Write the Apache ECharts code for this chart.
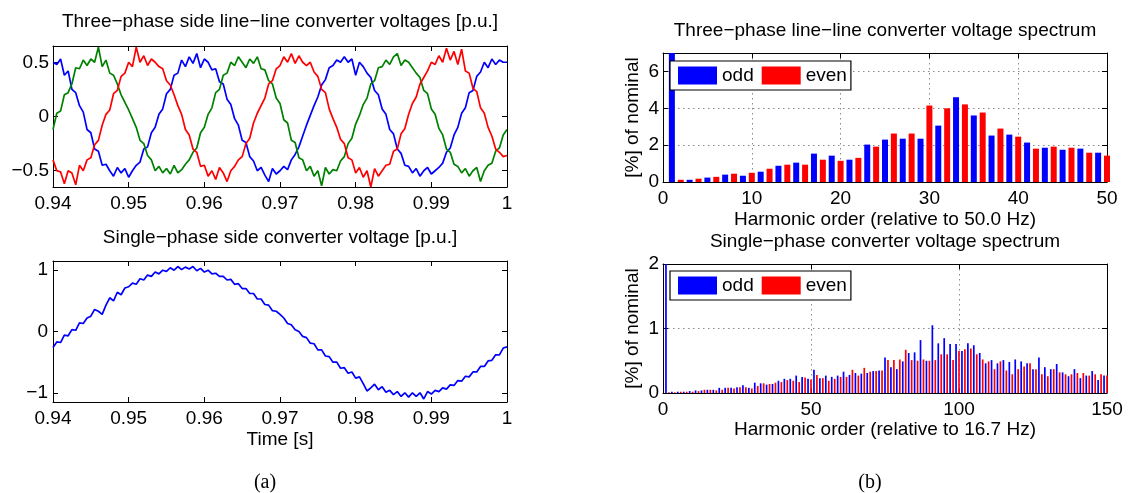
<!DOCTYPE html>
<html><head><meta charset="utf-8">
<script src="https://cdn.jsdelivr.net/npm/echarts@6/dist/echarts.min.js"></script>
<style>html,body{margin:0;padding:0;background:#fff}#c{width:1142px;height:493px}</style>
</head><body><div id="c"></div>
<script>
// ---------- time-domain data (sampled every 0.5 ms from 0.94 s) ----------
const timeStart = 0.94, timeStep = 0.0005;
const phaseBlue = [0.5,0.48,0.53,0.38,0.42,0.25,0.22,0.1,0.04,-0.12,-0.15,-0.3,-0.32,-0.45,-0.44,-0.5,-0.55,-0.47,-0.52,-0.48,-0.56,-0.5,-0.45,-0.42,-0.3,-0.28,-0.15,-0.1,
0.02,0.07,0.21,0.25,0.38,0.4,0.52,0.46,0.55,0.49,0.58,0.45,0.53,0.5,0.43,0.44,0.32,0.3,0.16,0.11,-0.02,-0.08,-0.22,-0.24,-0.37,-0.41,-0.5,-0.47,-0.54,-0.6,-0.48,-0.53,-0.5,-0.46,-0.49,-0.4,-0.35,-0.28,-0.18,-0.08,
0.01,0.1,0.18,0.29,0.34,0.45,0.47,0.52,0.5,0.55,0.5,0.53,0.38,0.5,0.46,0.4,0.36,0.24,0.2,0.07,0.02,-0.12,-0.16,-0.3,-0.34,-0.45,-0.46,-0.52,-0.48,-0.55,-0.5,-0.47,-0.53,-0.5,-0.47,-0.43,-0.33,-0.29,-0.17,-0.1,
0.03,0.08,0.22,0.24,0.37,0.41,0.5,0.45,0.53,0.48,0.52,0.5,0.5];
const phaseGreen = [-0.12,0.03,0.05,0.2,0.22,0.3,0.45,0.44,0.52,0.47,0.53,0.5,0.64,0.46,0.52,0.4,0.38,0.3,0.2,0.13,0.06,-0.02,-0.1,-0.22,-0.25,-0.36,-0.4,-0.5,-0.46,-0.52,-0.48,-0.53,-0.45,-0.52,-0.49,-0.44,-0.4,-0.33,-0.29,-0.15,-0.1,
0.02,0.08,0.22,0.25,0.38,0.4,0.5,0.47,0.55,0.5,0.45,0.53,0.49,0.55,0.44,0.43,0.33,0.3,0.17,0.12,-0.03,-0.06,-0.22,-0.24,-0.38,-0.4,-0.5,-0.46,-0.55,-0.5,-0.64,-0.47,-0.53,-0.49,-0.5,-0.41,-0.37,-0.25,-0.2,-0.07,
0.01,0.11,0.17,0.3,0.33,0.45,0.46,0.52,0.48,0.55,0.58,0.47,0.52,0.5,0.45,0.4,0.36,0.24,0.21,0.07,0.02,-0.11,-0.17,-0.3,-0.33,-0.44,-0.46,-0.52,-0.48,-0.55,-0.5,-0.47,-0.6,-0.5,-0.45,-0.43,-0.32,-0.29,-0.17,-0.12];
const phaseRed = [-0.4,-0.5,-0.51,-0.62,-0.5,-0.52,-0.63,-0.45,-0.5,-0.4,-0.38,-0.26,-0.22,-0.08,
0.02,0.06,0.21,0.24,0.37,0.4,0.5,0.46,0.64,0.5,0.56,0.47,0.53,0.5,0.46,0.44,0.33,0.29,0.2,0.1,0.02,-0.12,-0.17,-0.3,-0.33,-0.46,-0.45,-0.55,-0.5,-0.58,-0.47,-0.52,-0.6,-0.5,-0.46,-0.4,-0.37,-0.25,-0.2,-0.06,
0.03,0.1,0.17,0.3,0.33,0.44,0.47,0.55,0.5,0.58,0.49,0.56,0.5,0.47,0.5,0.41,0.37,0.25,0.22,0.07,-0.02,-0.1,-0.21,-0.25,-0.38,-0.4,-0.52,-0.47,-0.56,-0.5,-0.65,-0.48,-0.55,-0.5,-0.45,-0.44,-0.32,-0.3,-0.16,-0.11,
0.02,0.12,0.18,0.3,0.36,0.42,0.5,0.48,0.56,0.5,0.63,0.52,0.6,0.48,0.62,0.42,0.4,0.26,0.23,0.08,0.03,-0.1,-0.18,-0.3,-0.33,-0.37,-0.36];
const singlePhase = [-0.26,-0.17,-0.18,-0.06,-0.07,0.03,0.02,0.14,0.13,0.22,
0.25,0.36,0.33,0.28,0.43,0.55,0.5,0.64,0.6,0.71,
0.73,0.79,0.77,0.86,0.84,0.92,0.9,0.97,0.94,1.0,
0.98,1.04,1.0,1.06,1.01,1.05,1.02,1.06,0.99,1.03,
0.97,1.0,0.94,0.95,0.9,0.9,0.84,0.85,0.77,0.78,
0.7,0.7,0.62,0.62,0.53,0.53,0.44,0.43,0.34,0.33,
0.28,0.22,0.13,0.11,0.03,0.0,-0.08,-0.1,-0.19,-0.2,
-0.3,-0.3,-0.4,-0.41,-0.5,-0.5,-0.6,-0.59,-0.68,-0.66,
-0.76,-0.74,-0.85,-0.97,-0.92,-0.86,-0.95,-0.9,-0.99,-0.96,
-1.03,-0.98,-1.06,-1.0,-1.07,-1.0,-1.06,-1.0,-1.1,-0.98,
-1.02,-0.96,-0.98,-0.92,-0.94,-0.87,-0.88,-0.8,-0.81,-0.73,
-0.74,-0.66,-0.66,-0.57,-0.57,-0.48,-0.47,-0.38,-0.38,-0.27,
-0.25];
const timeTicks = [0.94,0.95,0.96,0.97,0.98,0.99,1];
const threePhaseYTicks = [-0.5,0,0.5];
const singlePhaseYTicks = [-1,0,1];

// ---------- spectra ----------
// harmonic orders 1,3,5,...,49 and 2,4,...,50
const threeSpecOdd = [100,0.12,0.24,0.4,0.34,0.56,0.88,1.05,1.54,1.43,1.21,2.03,2.3,2.35,2.35,3.06,4.6,3.61,2.52,2.57,2.14,1.86,1.75,1.81,1.59];
const threeSpecEven = [0.12,0.18,0.28,0.45,0.5,0.72,0.94,0.94,1.21,1.15,1.31,1.92,2.63,2.63,4.15,4.0,4.21,3.77,2.9,2.46,1.81,1.92,1.86,1.59,1.43];
// harmonic orders 1,3,...,149 and 2,4,...,150
const singleSpecOdd = [100,0.02,0.02,0.02,0.03,0.04,0.04,0.05,0.05,0.08,
0.08,0.08,0.09,0.12,0.08,0.16,0.15,0.13,0.14,0.19,
0.22,0.22,0.27,0.25,0.22,0.36,0.23,0.27,0.25,0.27,
0.33,0.28,0.31,0.3,0.31,0.34,0.35,0.55,0.4,0.37,
0.49,0.62,0.63,0.82,0.5,1.05,0.77,0.85,0.76,0.76,
0.65,0.77,0.74,0.62,0.46,0.51,0.46,0.51,0.48,0.52,
0.49,0.46,0.37,0.55,0.4,0.37,0.45,0.32,0.26,0.37,
0.23,0.27,0.34,0.2,0.27];
const singleSpecEven = [0.01,0.01,0.02,0.02,0.02,0.03,0.05,0.05,0.04,0.05,
0.08,0.07,0.09,0.09,0.07,0.11,0.15,0.14,0.16,0.17,
0.2,0.19,0.17,0.24,0.21,0.28,0.23,0.19,0.22,0.25,
0.25,0.36,0.27,0.39,0.33,0.34,0.35,0.51,0.51,0.52,
0.67,0.51,0.5,0.52,0.5,0.51,0.6,0.6,0.51,0.65,
0.68,0.69,0.6,0.52,0.49,0.37,0.49,0.35,0.29,0.37,
0.41,0.46,0.37,0.29,0.26,0.37,0.32,0.29,0.29,0.31,
0.31,0.27,0.29,0.29,0.27];

// ---------- helpers ----------
const FONT = "'Liberation Sans', Arial, Helvetica, sans-serif";
const MINUS = '\u2212';
const fmt = v => String(v).replace('-', MINUS);
const times = phaseBlue.map((_, i) => +(timeStart + i * timeStep).toFixed(5));
const pairs = (arr) => arr.map((v, i) => [times[i], v]);
const oddPairs = (arr) => arr.map((v, k) => [2 * k + 1, v]);
const evenPairs = (arr) => arr.map((v, k) => [2 * k + 2, v]);

const dotted = {show: true, lineStyle: {color: '#8a8a8a', width: 1, type: [1.5, 3.5]}};
function axis(o) {
  const a = {
    type: 'value', gridIndex: o.grid, min: o.min, max: o.max, position: o.pos,
    axisLine: {show: true, onZero: false, lineStyle: {color: '#000', width: 1}},
    axisTick: {show: true, inside: true, length: 5, lineStyle: {color: '#000', width: 1}},
    axisLabel: {show: !o.mirror, color: '#000', fontSize: 19, fontFamily: FONT, margin: o.margin || 6, formatter: fmt},
    splitLine: o.grid_lines && !o.mirror ? dotted : {show: false},
    nameTextStyle: {color: '#000', fontSize: 19, fontFamily: FONT}
  };
  if (o.interval) a.interval = o.interval;
  if (o.ticks) { a.axisTick.customValues = o.ticks; a.axisLabel.customValues = o.ticks; }
  if (o.hideMax) a.axisLabel.showMaxLabel = false;
  if (o.name && !o.mirror) { a.name = o.name; a.nameLocation = 'middle'; a.nameGap = o.nameGap; if (o.rot) a.nameRotate = 90; }
  return a;
}

const xAxes = [
  axis({grid:0,min:0.94,max:1,pos:'bottom',ticks:timeTicks,margin:7}),
  axis({grid:0,min:0.94,max:1,pos:'top',ticks:timeTicks,mirror:true}),
  axis({grid:1,min:0.94,max:1,pos:'bottom',ticks:timeTicks,margin:7,name:'Time [s]',nameGap:28}),
  axis({grid:1,min:0.94,max:1,pos:'top',ticks:timeTicks,mirror:true}),
  axis({grid:2,min:0,max:50,interval:10,pos:'bottom',margin:7,grid_lines:true,name:'Harmonic order (relative to 50.0 Hz)',nameGap:28}),
  axis({grid:2,min:0,max:50,interval:10,pos:'top',mirror:true}),
  axis({grid:3,min:0,max:150,interval:50,pos:'bottom',margin:7,grid_lines:true,name:'Harmonic order (relative to 16.7 Hz)',nameGap:27}),
  axis({grid:3,min:0,max:150,interval:50,pos:'top',mirror:true})
];
const yAxes = [
  axis({grid:0,min:-0.65,max:0.65,pos:'left',ticks:threePhaseYTicks,margin:4}),
  axis({grid:0,min:-0.65,max:0.65,pos:'right',ticks:threePhaseYTicks,mirror:true}),
  axis({grid:1,min:-1.15,max:1.15,pos:'left',ticks:singlePhaseYTicks,margin:5}),
  axis({grid:1,min:-1.15,max:1.15,pos:'right',ticks:singlePhaseYTicks,mirror:true}),
  axis({grid:2,min:0,max:7,interval:2,pos:'left',margin:4,grid_lines:true,hideMax:true,name:'[%] of nominal',nameGap:21,rot:true}),
  axis({grid:2,min:0,max:7,interval:2,pos:'right',mirror:true}),
  axis({grid:3,min:0,max:2,interval:1,pos:'left',margin:4,grid_lines:true,name:'[%] of nominal',nameGap:21,rot:true}),
  axis({grid:3,min:0,max:2,interval:1,pos:'right',mirror:true})
];

const titleStyle = {fontSize: 19, fontWeight: 'normal', color: '#000', fontFamily: FONT};
const capStyle = {fontSize: 20, fontWeight: 'normal', color: '#000', fontFamily: "'Liberation Serif', 'Times New Roman', serif"};
const legendBase = {
  data: ['odd', 'even'], orient: 'horizontal', icon: 'rect', itemWidth: 39, itemHeight: 18, itemGap: 8,
  padding: [5, 4, 5, 8], borderColor: '#000', borderWidth: 1.2, backgroundColor: '#fff', borderRadius: 0,
  textStyle: {fontSize: 19, color: '#000', fontFamily: FONT}, selectedMode: false
};
const lineSeries = (name, data, color, xi, yi) => ({
  name, type: 'line', data: pairs(data), xAxisIndex: xi, yAxisIndex: yi, showSymbol: false, symbol: 'none',
  lineStyle: {color, width: 1.7}, itemStyle: {color}, animation: false, clip: true
});
const barSeries = (name, data, color, xi, yi, w) => ({
  name, type: 'bar', data, xAxisIndex: xi, yAxisIndex: yi, barWidth: w, barGap: '-100%',
  itemStyle: {color}, animation: false, clip: true
});

const option = {
  backgroundColor: '#fff',
  animation: false,
  title: [
    {text: 'Three\u2212phase side line\u2212line converter voltages [p.u.]', left: 280, top: 12, textAlign: 'center', padding: 0, textStyle: titleStyle},
    {text: 'Single\u2212phase side converter voltage [p.u.]', left: 280, top: 228, textAlign: 'center', padding: 0, textStyle: titleStyle},
    {text: 'Three\u2212phase line\u2212line converter voltage spectrum', left: 885, top: 21, textAlign: 'center', padding: 0, textStyle: titleStyle},
    {text: 'Single\u2212phase converter voltage spectrum', left: 885, top: 232, textAlign: 'center', padding: 0, textStyle: titleStyle},
    {text: '(a)', left: 265, top: 473, textAlign: 'center', padding: 0, textStyle: capStyle},
    {text: '(b)', left: 870, top: 473, textAlign: 'center', padding: 0, textStyle: capStyle}
  ],
  legend: [
    Object.assign({left: 670, top: 61}, legendBase),
    Object.assign({left: 670, top: 271}, legendBase)
  ],
  grid: [
    {left: 53, top: 46, width: 454, height: 141},
    {left: 53, top: 261, width: 454, height: 141},
    {left: 663, top: 53, width: 444, height: 129},
    {left: 663, top: 264, width: 444, height: 129}
  ],
  xAxis: xAxes,
  yAxis: yAxes,
  series: [
    lineSeries('uab', phaseBlue, '#0000ff', 0, 0),
    lineSeries('ubc', phaseGreen, '#008000', 0, 0),
    lineSeries('uca', phaseRed, '#ff0000', 0, 0),
    lineSeries('u1ph', singlePhase, '#0000ff', 2, 2),
    barSeries('odd', oddPairs(threeSpecOdd), '#0000ff', 4, 4, 6),
    barSeries('even', evenPairs(threeSpecEven), '#ff0000', 4, 4, 6),
    barSeries('odd', oddPairs(singleSpecOdd), '#0000ff', 6, 6, 1.7),
    barSeries('even', evenPairs(singleSpecEven), '#ff0000', 6, 6, 1.7)
  ]
};
const chart = echarts.init(document.getElementById('c'), null, {renderer: 'canvas'});
chart.setOption(option);
</script></body></html>
